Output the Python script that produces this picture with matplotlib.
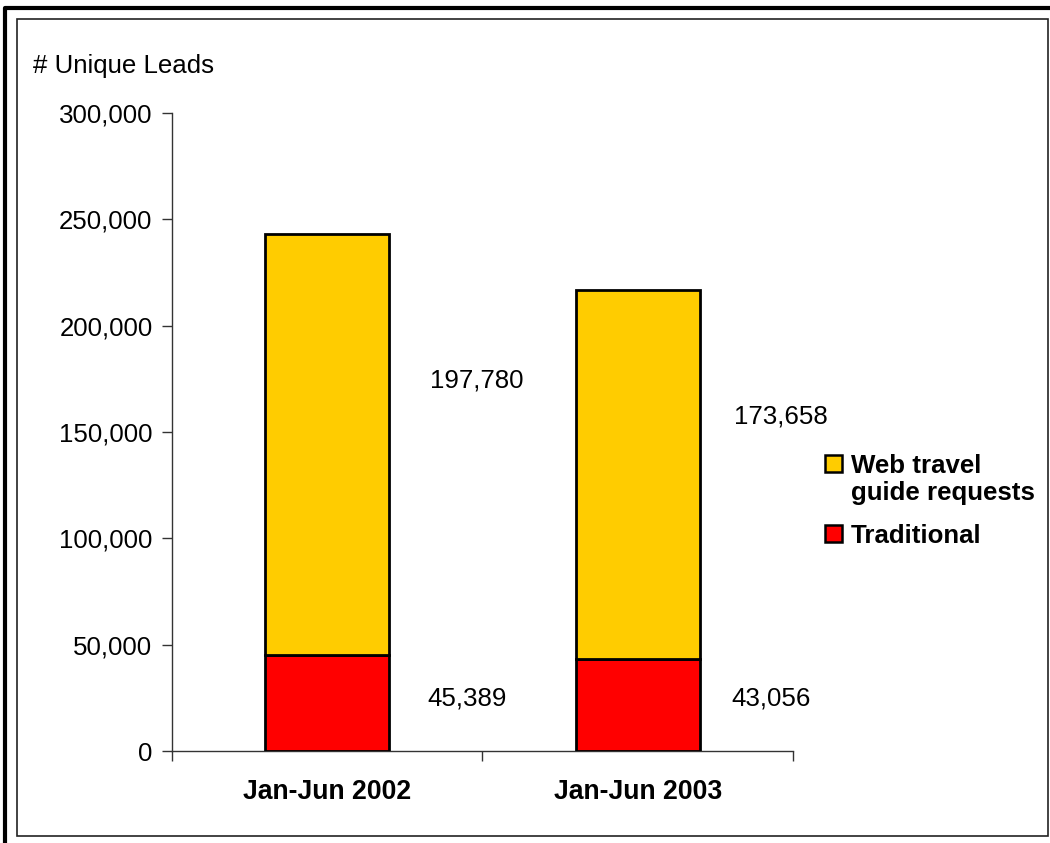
import matplotlib
matplotlib.use("Agg")
import matplotlib.pyplot as plt
from matplotlib.patches import Rectangle
from matplotlib.ticker import FuncFormatter

# Lead counts per half-year
periods = ["Jan-Jun 2002", "Jan-Jun 2003"]
traditional = [45389, 43056]
web_requests = [197780, 173658]
series_names = ["Web travel\nguide requests", "Traditional"]

YELLOW = "#FFCC00"
RED = "#FF0000"
FONT = "Liberation Sans"
FS = 18.6

plt.rcParams["font.family"] = [FONT, "DejaVu Sans"]

fig = plt.figure(figsize=(10.5, 8.43), dpi=100)
ax = fig.add_axes([0.1638, 0.1091, 0.5914, 0.7568])

x = [0.5, 1.5]
ax.bar(x, traditional, width=0.4, color=RED, edgecolor="black", linewidth=2, zorder=3)
ax.bar(x, web_requests, width=0.4, bottom=traditional, color=YELLOW,
       edgecolor="black", linewidth=2, zorder=3)

ax.set_xlim(0, 2)
ax.set_ylim(0, 300000)
ax.set_yticks(range(0, 300001, 50000))
ax.yaxis.set_major_formatter(FuncFormatter(lambda v, _: f"{int(v):,}"))
ax.tick_params(axis="y", direction="out", length=7, width=1, color="#333333",
               labelsize=FS, pad=7)

# boundary ticks between categories, labels in the middle
ax.set_xticks([0, 1, 2])
ax.set_xticklabels([])
ax.tick_params(axis="x", which="major", direction="out", length=7, width=1, color="#333333")
ax.set_xticks(x, periods, minor=True)
ax.tick_params(axis="x", which="minor", length=0, pad=20, labelsize=19.2)
for lbl in ax.get_xticklabels(minor=True):
    lbl.set_fontweight("bold")

for side in ["top", "right"]:
    ax.spines[side].set_visible(False)
for side in ["left", "bottom"]:
    ax.spines[side].set_color("#333333")
    ax.spines[side].set_linewidth(1)

# value labels to the right of each bar
for xi, t, w in zip(x, traditional, web_requests):
    dx = 0.45 if xi < 1 else 0.43
    ax.text(xi + dx, 24500, f"{t:,}", ha="center", va="center", fontsize=FS)
    ax.text(xi + dx + 0.03, 174000 if xi < 1 else 157500, f"{w:,}",
            ha="center", va="center", fontsize=FS)

fig.text(33 / 1050, 1 - 66 / 843, "# Unique Leads", ha="left", va="center", fontsize=FS)

# legend drawn by hand
W, H = 1050, 843
legend_items = [(series_names[0], YELLOW, 455), (series_names[1], RED, 525)]
for name, col, top in legend_items:
    fig.patches.append(Rectangle((825 / W, 1 - (top + 17) / H), 17 / W, 17 / H,
                                 transform=fig.transFigure, facecolor=col,
                                 edgecolor="black", linewidth=1.8))
    fig.text(851 / W, 1 - (top - 1) / H, name, ha="left", va="top",
             fontsize=FS, fontweight="bold", linespacing=1.18)

# frame lines around the chart
fig.add_artist(plt.Line2D([4.5 / W, 4.5 / W, 1], [0, 1 - 7.5 / H, 1 - 7.5 / H],
                          transform=fig.transFigure, color="black", linewidth=3))
fig.patches.append(Rectangle((16.5 / W, 1 - 835.5 / H), 1031 / W, 817 / H,
                             transform=fig.transFigure, fill=False,
                             edgecolor="#222222", linewidth=1.2))

fig.savefig("out.png", dpi=100)
